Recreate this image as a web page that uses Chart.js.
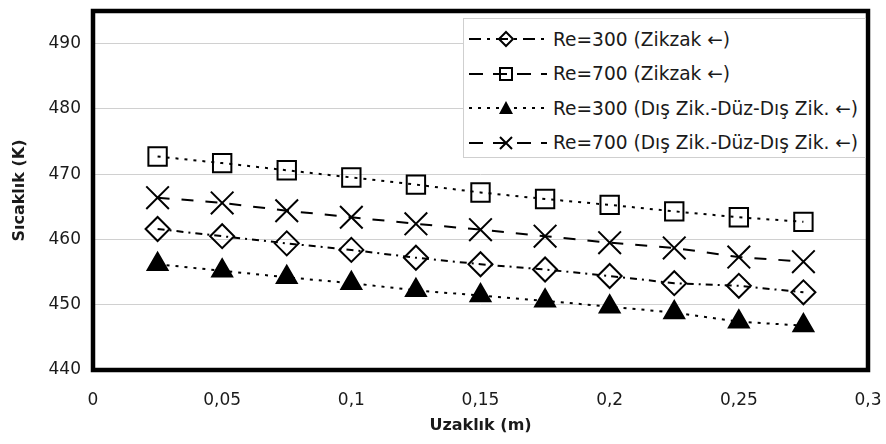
<!DOCTYPE html>
<html>
<head>
<meta charset="utf-8">
<script src="https://cdn.jsdelivr.net/npm/chart.js@4.4.1/dist/chart.umd.min.js"></script>
<style>
    html, body { margin: 0; padding: 0; background: #ffffff; }
    #wrap { position: relative; width: 886px; height: 444px; }
    #legend {
        position: absolute; left: 463px; top: 18px; width: 403px; height: 140px;
        box-sizing: border-box; border: 1px solid #cfcfcf; background: #ffffff;
        font-family: "DejaVu Sans", sans-serif; font-size: 18.6px; color: #1a1a1a;
        padding-top: 3px; white-space: nowrap;
    }
    .row { display: flex; align-items: center; height: 34.5px; }
    .row svg { flex: none; margin-left: 3px; margin-right: 4px; }
</style>
</head>
<body>
<div id="wrap">
    <canvas id="chart" width="886" height="444"></canvas>
    <div id="legend"></div>
</div>
<script>
/* --------------------------------------------
   Datos
-------------------------------------------- */
const distances = [0.025, 0.05, 0.075, 0.1, 0.125, 0.15, 0.175, 0.2, 0.225, 0.25, 0.275];

const re300Zikzak = [461.6, 460.5, 459.4, 458.4, 457.2, 456.2, 455.4, 454.4, 453.3, 452.9, 451.9];
const re700Zikzak = [472.7, 471.7, 470.6, 469.5, 468.4, 467.2, 466.2, 465.3, 464.3, 463.4, 462.7];
const re300Dis    = [456.2, 455.2, 454.2, 453.3, 452.2, 451.4, 450.6, 449.7, 448.8, 447.4, 446.8];
const re700Dis    = [466.4, 465.6, 464.4, 463.4, 462.4, 461.5, 460.5, 459.5, 458.7, 457.3, 456.6];

const seriesLabels = [
    "Re=300 (Zikzak \u2190)",
    "Re=700 (Zikzak \u2190)",
    "Re=300 (Dış Zik.-Düz-Dış Zik. \u2190)",
    "Re=700 (Dış Zik.-Düz-Dış Zik. \u2190)"
];

const xTickLabels = ["0", "0,05", "0,1", "0,15", "0,2", "0,25", "0,3"];
const yTickValues = [440, 450, 460, 470, 480, 490];

const toPoints = (vals) => vals.map((v, i) => ({ x: distances[i], y: v }));

/* --------------------------------------------
   Marco negro del área del gráfico
-------------------------------------------- */
const frame = {
    id: "frame",
    afterDraw(chart) {
        const { ctx, chartArea: a } = chart;
        ctx.save();
        ctx.strokeStyle = "#000";
        ctx.lineWidth = 4.5;
        ctx.strokeRect(a.left, a.top, a.right - a.left, a.bottom - a.top);
        ctx.restore();
    }
};

const tickFont = { family: "DejaVu Sans", size: 17 };
const titleFont = { family: "DejaVu Sans", size: 16, weight: "bold" };

const styles = [
    { pointStyle: "rectRot", radius: 12, dash: [7, 5, 2, 5], fill: "rgba(0,0,0,0)" },
    { pointStyle: "rect", radius: 13, dash: [3, 6], fill: "rgba(0,0,0,0)" },
    { pointStyle: "triangle", radius: 11.5, dash: [3, 6], fill: "#000" },
    { pointStyle: "crossRot", radius: 16, dash: [12, 12], fill: "rgba(0,0,0,0)" }
];
const allSeries = [re300Zikzak, re700Zikzak, re300Dis, re700Dis];

new Chart(document.getElementById("chart"), {
    type: "line",
    data: {
        datasets: allSeries.map((vals, i) => ({
            label: seriesLabels[i],
            data: toPoints(vals),
            borderColor: "#000",
            borderWidth: 2,
            borderDash: styles[i].dash,
            pointStyle: styles[i].pointStyle,
            pointRadius: styles[i].radius,
            pointBorderWidth: 2,
            pointBorderColor: "#000",
            pointBackgroundColor: styles[i].fill,
            tension: 0
        }))
    },
    options: {
        responsive: false,
        animation: false,
        devicePixelRatio: 1,
        layout: { autoPadding: false, padding: { left: 0, right: 18, top: 11, bottom: 0 } },
        plugins: { legend: { display: false }, tooltip: { enabled: false } },
        scales: {
            x: {
                type: "linear",
                min: 0,
                max: 0.3,
                ticks: {
                    stepSize: 0.05,
                    font: tickFont,
                    color: "#1a1a1a",
                    padding: 20,
                    maxRotation: 0,
                    callback: (v, i) => xTickLabels[i]
                },
                grid: { display: false, drawTicks: false },
                border: { display: false },
                title: { display: true, text: "Uzaklık (m)", font: titleFont, color: "#1a1a1a", padding: { top: 0, bottom: 9 } },
                afterFit: (s) => { s.height = 74; s.paddingLeft = 0; s.paddingRight = 0; }
            },
            y: {
                min: 440,
                max: 495,
                afterBuildTicks: (s) => { s.ticks = yTickValues.map(v => ({ value: v })); },
                ticks: { font: tickFont, color: "#1a1a1a", padding: 12 },
                grid: { color: "#d0d0d0", lineWidth: 1, drawTicks: false },
                border: { display: false },
                title: { display: true, text: "Sıcaklık (K)", font: titleFont, color: "#1a1a1a", padding: { top: 10, bottom: 0 } },
                afterFit: (s) => { s.width = 93; s.paddingTop = 0; s.paddingBottom = 0; }
            }
        }
    },
    plugins: [frame]
});

/* --------------------------------------------
   Leyenda HTML (dentro del área, arriba a la derecha)
-------------------------------------------- */
const markerSvg = [
    '<path d="M39 3 L46 10 L39 17 L32 10 Z" fill="none" stroke="#000" stroke-width="2"/>',
    '<rect x="33" y="4" width="12" height="12" fill="none" stroke="#000" stroke-width="2"/>',
    '<path d="M39 3 L46 16 L32 16 Z" fill="#000"/>',
    '<path d="M33 4 L45 16 M45 4 L33 16" stroke="#000" stroke-width="2"/>'
];
const legendDash = ["12 6 3 6", "14 10", "3 6", "14 10"];
const legend = document.getElementById("legend");
seriesLabels.forEach((label, i) => {
    const row = document.createElement("div");
    row.className = "row";
    row.innerHTML =
        '<svg width="82" height="20"><line x1="2" y1="10" x2="80" y2="10" stroke="#000" stroke-width="2" stroke-dasharray="' +
        legendDash[i] + '"/>' + markerSvg[i] + '</svg><span>' + label + '</span>';
    legend.appendChild(row);
});
</script>
</body>
</html>
